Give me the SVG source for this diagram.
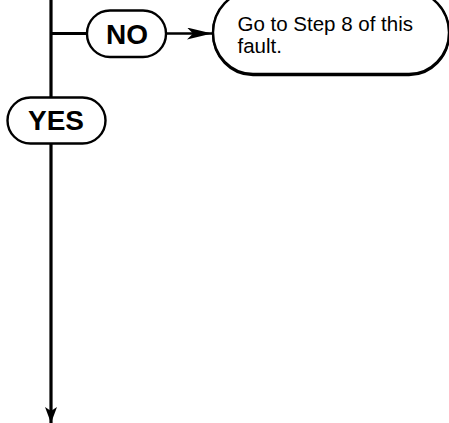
<svg xmlns="http://www.w3.org/2000/svg" width="449" height="423" viewBox="0 0 449 423">
<style>
.box{fill:#fff;stroke:#000;stroke-width:2.4}
.lbl{font-family:"Liberation Sans",Arial,sans-serif;font-weight:bold;font-size:28px;text-anchor:middle}
.txt{font-family:"Liberation Sans",Arial,sans-serif;font-size:20.5px}
.ln{stroke:#000;stroke-width:3.2;fill:none}
</style>
<defs>
<marker id="ah2" markerWidth="25" markerHeight="12" refX="25" refY="6" orient="auto" markerUnits="userSpaceOnUse" viewBox="0 0 25 12">
<path d="M0,0 L25,6 L0,12 L6,6 Z" fill="#000"/>
</marker>
<marker id="ah3" markerWidth="16" markerHeight="12" refX="16" refY="6" orient="auto" markerUnits="userSpaceOnUse" viewBox="0 0 16 12">
<path d="M0,0 L16,6 L0,12 L4,6 Z" fill="#000"/>
</marker>
</defs>
<g id="connectors">
<path class="ln" d="M51,-2 V98"/>
<path class="ln" d="M51,33.5 H88"/>
<path d="M166,33.5 H212" stroke="#000" stroke-width="2.6" fill="none" marker-end="url(#ah2)"/>
<path class="ln" d="M51,143 V423" marker-end="url(#ah3)"/>
</g>
<g id="no">
<rect class="box" x="87" y="10.5" width="79" height="46.5" rx="23" ry="23"/>
<text class="lbl" x="127" y="43.5">NO</text>
</g>
<g id="yes">
<rect class="box" x="7.5" y="97.5" width="98" height="46" rx="23" ry="23"/>
<text class="lbl" x="56" y="129.5">YES</text>
</g>
<g id="step">
<rect x="213" y="-8" width="236" height="83" rx="40" ry="42" fill="none" stroke="#000" stroke-width="2.4"/>
<rect class="box" x="213" y="-9" width="236" height="83" rx="40" ry="42"/>
<text class="txt" x="237.5" y="31">Go to Step 8 of this</text>
<text class="txt" x="237.5" y="53">fault.</text>
</g>
</svg>
